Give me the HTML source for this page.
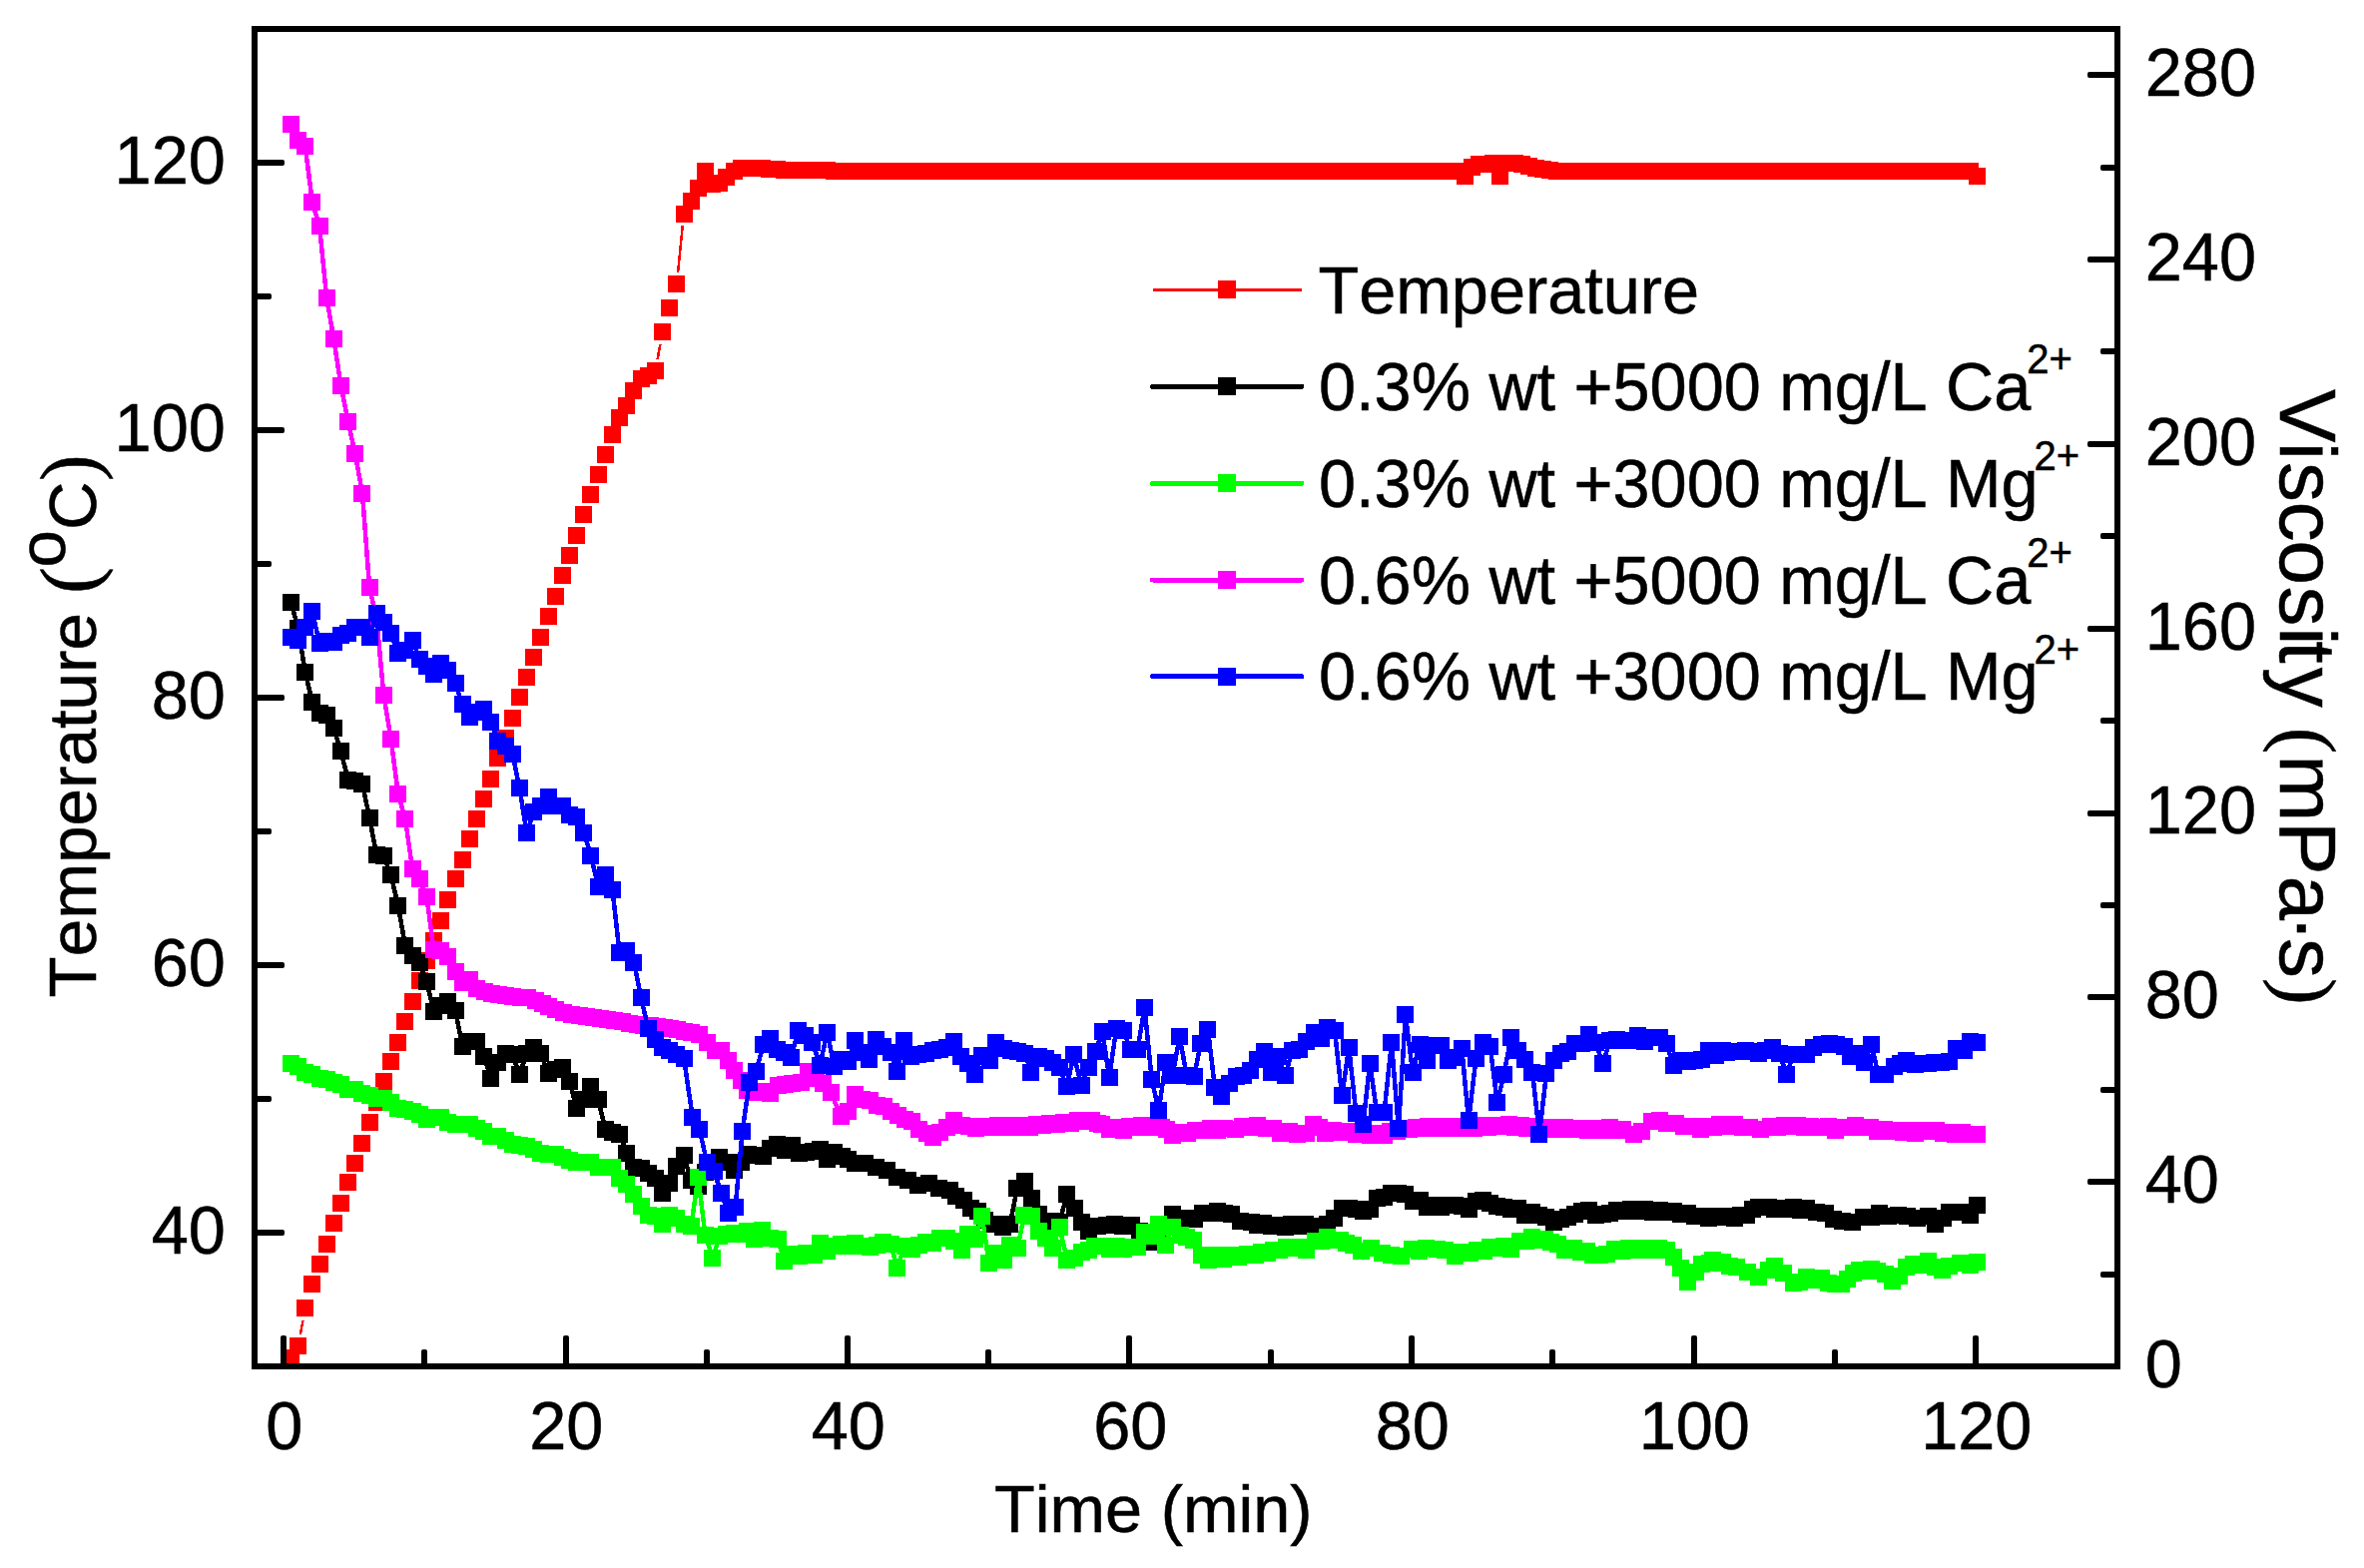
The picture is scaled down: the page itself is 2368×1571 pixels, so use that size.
<!DOCTYPE html>
<html><head><meta charset="utf-8"><title>Temperature and Viscosity vs Time</title>
<style>html,body{margin:0;padding:0;background:#fff}svg{display:block}text{font-family:"Liberation Sans",Arial,sans-serif;fill:#000;stroke:#000;stroke-width:0.5px;font-kerning:none;font-variant-ligatures:none}</style></head><body>
<svg width="2368" height="1571" viewBox="0 0 2368 1571" shape-rendering="crispEdges">
<rect width="2368" height="1571" fill="#fff"/>
<defs><clipPath id="c"><rect x="255" y="29" width="1866" height="1340"/></clipPath></defs>
<g clip-path="url(#c)">
<path d="M300.8 1337L303.5 1322.8M658.6 360L661.4 344.8M679.1 273L683.8 225.9" stroke="#f00" stroke-width="2.5" fill="none"/>
<path d="M283 1352h17v17h-17zM290 1340h17v17h-17zM297 1302h17v17h-17zM304 1278h17v17h-17zM312 1258h17v17h-17zM319 1238h17v17h-17zM326 1217h17v17h-17zM333 1197h17v17h-17zM340 1176h17v17h-17zM347 1157h17v17h-17zM354 1137h17v17h-17zM362 1116h17v17h-17zM369 1096h17v17h-17zM376 1075h17v17h-17zM383 1055h17v17h-17zM390 1036h17v17h-17zM397 1015h17v17h-17zM405 995h17v17h-17zM412 974h17v17h-17zM419 954h17v17h-17zM426 934h17v17h-17zM433 914h17v17h-17zM440 893h17v17h-17zM448 872h17v17h-17zM455 853h17v17h-17zM462 832h17v17h-17zM469 812h17v17h-17zM476 792h17v17h-17zM483 772h17v17h-17zM490 751h17v17h-17zM498 731h17v17h-17zM505 711h17v17h-17zM512 690h17v17h-17zM519 670h17v17h-17zM526 650h17v17h-17zM533 630h17v17h-17zM541 609h17v17h-17zM548 589h17v17h-17zM555 568h17v17h-17zM562 548h17v17h-17zM569 528h17v17h-17zM576 507h17v17h-17zM583 487h17v17h-17zM591 467h17v17h-17zM598 447h17v17h-17zM605 427h17v17h-17zM612 410h17v17h-17zM619 398h17v17h-17zM626 383h17v17h-17zM634 371h17v17h-17zM641 368h17v17h-17zM648 363h17v17h-17zM655 324h17v17h-17zM662 300h17v17h-17zM669 276h17v17h-17zM677 206h17v17h-17zM684 193h17v17h-17zM691 180h17v17h-17zM698 163h17v17h-17zM705 176h17v17h-17zM712 175h17v17h-17zM719 169h17v17h-17zM727 163h17v17h-17zM734 160h17v17h-17zM741 160h17v17h-17zM748 160h17v17h-17zM755 160h17v17h-17zM762 161h17v17h-17zM770 161h17v17h-17zM777 162h17v17h-17zM784 162h17v17h-17zM791 162h17v17h-17zM798 162h17v17h-17zM805 162h17v17h-17zM813 162h17v17h-17zM820 162h17v17h-17zM827 163h17v17h-17zM833 163h17v17h-17zM839 163h17v17h-17zM846 163h17v17h-17zM853 163h17v17h-17zM860 163h17v17h-17zM867 163h17v17h-17zM874 163h17v17h-17zM882 163h17v17h-17zM889 163h17v17h-17zM896 163h17v17h-17zM903 163h17v17h-17zM910 163h17v17h-17zM917 163h17v17h-17zM924 163h17v17h-17zM931 163h17v17h-17zM939 163h17v17h-17zM946 163h17v17h-17zM953 163h17v17h-17zM960 163h17v17h-17zM967 163h17v17h-17zM974 163h17v17h-17zM981 163h17v17h-17zM988 163h17v17h-17zM996 163h17v17h-17zM1003 163h17v17h-17zM1010 163h17v17h-17zM1017 163h17v17h-17zM1024 163h17v17h-17zM1031 163h17v17h-17zM1038 163h17v17h-17zM1045 163h17v17h-17zM1053 163h17v17h-17zM1060 163h17v17h-17zM1067 163h17v17h-17zM1074 163h17v17h-17zM1081 163h17v17h-17zM1088 163h17v17h-17zM1095 163h17v17h-17zM1102 163h17v17h-17zM1110 163h17v17h-17zM1117 163h17v17h-17zM1124 163h17v17h-17zM1131 163h17v17h-17zM1138 163h17v17h-17zM1145 163h17v17h-17zM1152 163h17v17h-17zM1159 163h17v17h-17zM1167 163h17v17h-17zM1174 163h17v17h-17zM1181 163h17v17h-17zM1188 163h17v17h-17zM1195 163h17v17h-17zM1202 163h17v17h-17zM1209 163h17v17h-17zM1216 163h17v17h-17zM1224 163h17v17h-17zM1231 163h17v17h-17zM1238 163h17v17h-17zM1245 163h17v17h-17zM1252 163h17v17h-17zM1259 163h17v17h-17zM1266 163h17v17h-17zM1273 163h17v17h-17zM1281 163h17v17h-17zM1288 163h17v17h-17zM1295 163h17v17h-17zM1302 163h17v17h-17zM1309 163h17v17h-17zM1316 163h17v17h-17zM1323 163h17v17h-17zM1331 163h17v17h-17zM1338 163h17v17h-17zM1345 163h17v17h-17zM1352 163h17v17h-17zM1359 163h17v17h-17zM1366 163h17v17h-17zM1373 163h17v17h-17zM1380 163h17v17h-17zM1388 163h17v17h-17zM1395 163h17v17h-17zM1402 163h17v17h-17zM1409 163h17v17h-17zM1416 163h17v17h-17zM1423 163h17v17h-17zM1430 163h17v17h-17zM1437 163h17v17h-17zM1445 163h17v17h-17zM1452 163h17v17h-17zM1459 168h17v17h-17zM1466 159h17v17h-17zM1473 156h17v17h-17zM1480 156h17v17h-17zM1487 155h17v17h-17zM1494 168h17v17h-17zM1502 155h17v17h-17zM1509 155h17v17h-17zM1516 156h17v17h-17zM1523 158h17v17h-17zM1530 160h17v17h-17zM1537 161h17v17h-17zM1544 162h17v17h-17zM1551 163h17v17h-17zM1559 163h17v17h-17zM1566 163h17v17h-17zM1573 163h17v17h-17zM1580 163h17v17h-17zM1587 163h17v17h-17zM1594 163h17v17h-17zM1601 163h17v17h-17zM1608 163h17v17h-17zM1616 163h17v17h-17zM1623 163h17v17h-17zM1630 163h17v17h-17zM1637 163h17v17h-17zM1644 163h17v17h-17zM1651 163h17v17h-17zM1658 163h17v17h-17zM1665 163h17v17h-17zM1673 163h17v17h-17zM1680 163h17v17h-17zM1687 163h17v17h-17zM1694 163h17v17h-17zM1701 163h17v17h-17zM1708 163h17v17h-17zM1715 163h17v17h-17zM1722 163h17v17h-17zM1730 163h17v17h-17zM1737 163h17v17h-17zM1744 163h17v17h-17zM1751 163h17v17h-17zM1758 163h17v17h-17zM1765 163h17v17h-17zM1772 163h17v17h-17zM1779 163h17v17h-17zM1787 163h17v17h-17zM1794 163h17v17h-17zM1801 163h17v17h-17zM1808 163h17v17h-17zM1815 163h17v17h-17zM1822 163h17v17h-17zM1829 163h17v17h-17zM1836 163h17v17h-17zM1844 163h17v17h-17zM1851 163h17v17h-17zM1858 163h17v17h-17zM1865 163h17v17h-17zM1872 163h17v17h-17zM1879 163h17v17h-17zM1886 163h17v17h-17zM1894 163h17v17h-17zM1901 163h17v17h-17zM1908 163h17v17h-17zM1915 163h17v17h-17zM1922 163h17v17h-17zM1929 163h17v17h-17zM1936 163h17v17h-17zM1943 163h17v17h-17zM1951 163h17v17h-17zM1958 163h17v17h-17zM1965 163h17v17h-17zM1972 168h17v17h-17z" fill="#f00"/>
<path d="M291.4 603.5L298.6 629.3L305.7 673.4L312.9 703.9L320 714.8L327.2 716.7L334.3 729.4L341.5 753L348.7 781.3L355.8 782.5L363 785.4L370.1 819.4L377.3 856.9L384.4 857.9L391.6 876.9L398.8 907.5L405.9 947.4L413.1 957.3L420.2 964.5L427.4 983.9L434.5 1013.3L441.7 1007.5L448.9 1003.7L456 1012.5L463.2 1048.2L470.3 1043.4L477.5 1043.4L484.6 1058.6L491.8 1080L499 1064.5L506.1 1055.7L513.3 1056L520.4 1076.8L527.6 1055.5L534.7 1049.4L541.9 1055.7L549.1 1075.7L556.2 1071.7L563.4 1069.5L570.5 1083.6L577.7 1110L584.8 1101.3L592 1088.6L599.2 1101.8L606.3 1131.2L613.5 1134.5L620.6 1136.2L627.8 1155.1L634.9 1169.7L642.1 1170L649.2 1175.2L656.4 1180L663.6 1195.2L670.7 1185.3L677.9 1168L685 1157.8L692.2 1182.8L699.3 1188L706.5 1175L713.7 1165L720.8 1159.5L728 1165L735.1 1173L742.3 1165L749.4 1156.7L757.8 1157.7L764.7 1158.8L771.7 1150.6L778.9 1146.5L786.1 1152.7L793.1 1147.1L800.3 1155.5L807.5 1154.5L814.5 1153.4L821.6 1151.4L828.8 1161.8L835.8 1154.5L843 1158.2L850 1161.3L856.3 1165.6L866.9 1165.5L877.5 1169.9L888.1 1172.5L898.6 1179.8L909.2 1182L919.8 1187.2L930.4 1185.6L940.9 1190.4L951.5 1192.2L957.9 1198.9L965.3 1202.1L972.7 1210.5L979 1213.8L986.4 1222.1L997 1226.5L1004.4 1229.5L1011.8 1226.9L1018.8 1190.4L1026.2 1183.5L1033.4 1201L1040.5 1216.9L1047.7 1226.3L1054.7 1223.3L1061.5 1224.2L1068.9 1196L1076.3 1210.5L1083.1 1224.3L1090.5 1233.1L1099.6 1228.2L1108 1227.4L1116.5 1226.9L1124.9 1228L1133.4 1227.5L1141.9 1233.7L1147.7 1237L1153.5 1244.3L1159.3 1234.4L1165.1 1228.5L1174.6 1216.5L1182 1220L1189.5 1220.1L1196.9 1221.1L1204.3 1215.9L1211.7 1215.8L1219.1 1213.3L1226.5 1215.8L1233.9 1216.9L1242.7 1223.8L1253.3 1224.8L1259.6 1227.1L1266 1225.4L1273.4 1228.5L1280.8 1227.5L1287.1 1229.2L1293.5 1226.8L1299.8 1228.5L1307.2 1226.7L1314.6 1228.9L1323.1 1228.2L1329.8 1226.3L1336.8 1220.1L1344.2 1210.5L1351.2 1210.6L1358.4 1212L1365.4 1213.3L1372.1 1211.5L1379.1 1200.7L1386.5 1199.9L1393.9 1195.4L1400.9 1195.7L1407.9 1196.9L1415.1 1203.1L1422 1202.8L1429.2 1209L1436.2 1207L1443.6 1209.4L1450.4 1207L1457.4 1207.7L1464.3 1208.5L1471.1 1211.5L1478.5 1203.6L1485.5 1202L1492.7 1205.3L1499.7 1208.4L1506.6 1209.5L1513.8 1211.1L1520.8 1210.6L1527.8 1217.9L1535 1214.8L1542 1217.9L1549 1219.1L1556.1 1224.2L1563.1 1221.8L1570.1 1219.6L1577.3 1216.9L1584.3 1213.2L1591.5 1212.7L1598.4 1217.5L1605.4 1216.3L1612.6 1215.3L1619.6 1212.7L1626.8 1213.7L1633.8 1211.7L1640.9 1213.7L1647.9 1211.7L1655.1 1214.5L1662.2 1212.5L1669.3 1214.5L1676.3 1213.8L1683.5 1216.2L1690.4 1215.9L1697.4 1218.3L1704.6 1218L1711.6 1220.4L1718.8 1218L1726 1219.6L1731.9 1218L1737.9 1220.5L1743.7 1217.1L1749.4 1217.7L1755.2 1211.7L1761 1209.7L1771.5 1209.4L1777.9 1211.7L1784.2 1210L1790.5 1211.9L1796.8 1209.8L1803.1 1212.1L1809.4 1210.5L1819.9 1214.6L1828.4 1215.1L1836.8 1221.5L1845.2 1223.5L1855.7 1224.7L1866.2 1219.9L1874.6 1219.8L1882 1215.1L1891.5 1218.8L1902 1217.8L1910.4 1218.8L1920.9 1221L1931.5 1218.3L1938.8 1226.2L1946.2 1220.9L1952.5 1214.2L1959.9 1215L1967.2 1214.7L1973.5 1217.7L1980.5 1207.7" stroke="#000" stroke-width="4.5" fill="none" stroke-linejoin="round"/>
<path d="M283 595h17v17h-17zM290 621h17v17h-17zM297 665h17v17h-17zM304 695h17v17h-17zM312 706h17v17h-17zM319 708h17v17h-17zM326 721h17v17h-17zM333 744h17v17h-17zM340 773h17v17h-17zM347 774h17v17h-17zM354 777h17v17h-17zM362 811h17v17h-17zM369 848h17v17h-17zM376 849h17v17h-17zM383 868h17v17h-17zM390 899h17v17h-17zM397 939h17v17h-17zM405 949h17v17h-17zM412 956h17v17h-17zM419 975h17v17h-17zM426 1005h17v17h-17zM433 999h17v17h-17zM440 995h17v17h-17zM448 1004h17v17h-17zM455 1040h17v17h-17zM462 1035h17v17h-17zM469 1035h17v17h-17zM476 1050h17v17h-17zM483 1072h17v17h-17zM490 1056h17v17h-17zM498 1047h17v17h-17zM505 1048h17v17h-17zM512 1068h17v17h-17zM519 1047h17v17h-17zM526 1041h17v17h-17zM533 1047h17v17h-17zM541 1067h17v17h-17zM548 1063h17v17h-17zM555 1061h17v17h-17zM562 1075h17v17h-17zM569 1102h17v17h-17zM576 1093h17v17h-17zM583 1080h17v17h-17zM591 1093h17v17h-17zM598 1123h17v17h-17zM605 1126h17v17h-17zM612 1128h17v17h-17zM619 1147h17v17h-17zM626 1161h17v17h-17zM634 1162h17v17h-17zM641 1167h17v17h-17zM648 1172h17v17h-17zM655 1187h17v17h-17zM662 1177h17v17h-17zM669 1160h17v17h-17zM677 1149h17v17h-17zM684 1174h17v17h-17zM691 1180h17v17h-17zM698 1166h17v17h-17zM705 1156h17v17h-17zM712 1151h17v17h-17zM719 1156h17v17h-17zM727 1164h17v17h-17zM734 1156h17v17h-17zM741 1148h17v17h-17zM749 1149h17v17h-17zM756 1150h17v17h-17zM763 1142h17v17h-17zM770 1138h17v17h-17zM778 1144h17v17h-17zM785 1139h17v17h-17zM792 1147h17v17h-17zM799 1146h17v17h-17zM806 1145h17v17h-17zM813 1143h17v17h-17zM820 1153h17v17h-17zM827 1146h17v17h-17zM835 1150h17v17h-17zM841 1153h17v17h-17zM848 1157h17v17h-17zM858 1157h17v17h-17zM869 1161h17v17h-17zM880 1164h17v17h-17zM890 1171h17v17h-17zM901 1174h17v17h-17zM911 1179h17v17h-17zM922 1177h17v17h-17zM932 1182h17v17h-17zM943 1184h17v17h-17zM949 1190h17v17h-17zM957 1194h17v17h-17zM964 1202h17v17h-17zM971 1205h17v17h-17zM978 1214h17v17h-17zM988 1218h17v17h-17zM996 1221h17v17h-17zM1003 1218h17v17h-17zM1010 1182h17v17h-17zM1018 1175h17v17h-17zM1025 1192h17v17h-17zM1032 1208h17v17h-17zM1039 1218h17v17h-17zM1046 1215h17v17h-17zM1053 1216h17v17h-17zM1060 1188h17v17h-17zM1068 1202h17v17h-17zM1075 1216h17v17h-17zM1082 1225h17v17h-17zM1091 1220h17v17h-17zM1100 1219h17v17h-17zM1108 1218h17v17h-17zM1116 1220h17v17h-17zM1125 1219h17v17h-17zM1133 1225h17v17h-17zM1139 1229h17v17h-17zM1145 1236h17v17h-17zM1151 1226h17v17h-17zM1157 1220h17v17h-17zM1166 1208h17v17h-17zM1174 1212h17v17h-17zM1181 1212h17v17h-17zM1188 1213h17v17h-17zM1196 1207h17v17h-17zM1203 1207h17v17h-17zM1211 1205h17v17h-17zM1218 1207h17v17h-17zM1225 1208h17v17h-17zM1234 1215h17v17h-17zM1245 1216h17v17h-17zM1251 1219h17v17h-17zM1257 1217h17v17h-17zM1265 1220h17v17h-17zM1272 1219h17v17h-17zM1279 1221h17v17h-17zM1285 1218h17v17h-17zM1291 1220h17v17h-17zM1299 1218h17v17h-17zM1306 1220h17v17h-17zM1315 1220h17v17h-17zM1321 1218h17v17h-17zM1328 1212h17v17h-17zM1336 1202h17v17h-17zM1343 1202h17v17h-17zM1350 1203h17v17h-17zM1357 1205h17v17h-17zM1364 1203h17v17h-17zM1371 1192h17v17h-17zM1378 1191h17v17h-17zM1385 1187h17v17h-17zM1392 1187h17v17h-17zM1399 1188h17v17h-17zM1407 1195h17v17h-17zM1414 1194h17v17h-17zM1421 1201h17v17h-17zM1428 1199h17v17h-17zM1435 1201h17v17h-17zM1442 1199h17v17h-17zM1449 1199h17v17h-17zM1456 1200h17v17h-17zM1463 1203h17v17h-17zM1470 1195h17v17h-17zM1477 1194h17v17h-17zM1484 1197h17v17h-17zM1491 1200h17v17h-17zM1498 1201h17v17h-17zM1505 1203h17v17h-17zM1512 1202h17v17h-17zM1519 1209h17v17h-17zM1526 1206h17v17h-17zM1533 1209h17v17h-17zM1540 1211h17v17h-17zM1548 1216h17v17h-17zM1555 1213h17v17h-17zM1562 1211h17v17h-17zM1569 1208h17v17h-17zM1576 1205h17v17h-17zM1583 1204h17v17h-17zM1590 1209h17v17h-17zM1597 1208h17v17h-17zM1604 1207h17v17h-17zM1611 1204h17v17h-17zM1618 1205h17v17h-17zM1625 1203h17v17h-17zM1632 1205h17v17h-17zM1639 1203h17v17h-17zM1647 1206h17v17h-17zM1654 1204h17v17h-17zM1661 1206h17v17h-17zM1668 1205h17v17h-17zM1675 1208h17v17h-17zM1682 1207h17v17h-17zM1689 1210h17v17h-17zM1696 1210h17v17h-17zM1703 1212h17v17h-17zM1710 1210h17v17h-17zM1717 1211h17v17h-17zM1723 1210h17v17h-17zM1729 1212h17v17h-17zM1735 1209h17v17h-17zM1741 1209h17v17h-17zM1747 1203h17v17h-17zM1753 1201h17v17h-17zM1763 1201h17v17h-17zM1769 1203h17v17h-17zM1776 1202h17v17h-17zM1782 1203h17v17h-17zM1788 1201h17v17h-17zM1795 1204h17v17h-17zM1801 1202h17v17h-17zM1811 1206h17v17h-17zM1820 1207h17v17h-17zM1828 1213h17v17h-17zM1837 1215h17v17h-17zM1847 1216h17v17h-17zM1858 1211h17v17h-17zM1866 1211h17v17h-17zM1874 1207h17v17h-17zM1883 1210h17v17h-17zM1893 1209h17v17h-17zM1902 1210h17v17h-17zM1912 1212h17v17h-17zM1923 1210h17v17h-17zM1930 1218h17v17h-17zM1938 1212h17v17h-17zM1944 1206h17v17h-17zM1951 1206h17v17h-17zM1959 1206h17v17h-17zM1965 1209h17v17h-17zM1972 1199h17v17h-17z" fill="#000"/>
<path d="M291.4 1065.4L298.6 1069L305.7 1074.3L312.9 1077L320 1080.2L327.2 1081.2L334.3 1084.8L341.5 1086.1L348.7 1091.8L355.8 1091.8L363 1095.4L370.1 1097.5L377.3 1100.9L384.4 1100.9L391.6 1104.5L398.8 1110.4L405.9 1111.9L413.1 1113.6L420.2 1116.6L427.4 1121.4L434.5 1119.3L441.7 1119.3L448.9 1124.2L456 1126.7L463.2 1126.7L470.3 1126.7L477.5 1130.9L484.6 1133.7L491.8 1138.8L499 1138.8L506.1 1142.6L513.3 1146.8L520.4 1147.9L527.6 1148.5L534.7 1151.5L541.9 1155.3L549.1 1156.3L556.2 1157L563.4 1159.9L570.5 1162.7L577.7 1164.2L584.8 1164.8L592 1164.8L599.2 1169.7L606.3 1169.7L613.5 1169.7L620.6 1180.7L627.8 1187L634.9 1196.5L642.1 1208.6L649.2 1217.7L656.4 1218.7L663.6 1226.1L670.7 1217.7L677.9 1220L685 1227L692.2 1229L699.3 1179.6L706.5 1237.8L713.7 1260.2L720.8 1238.8L728 1236L735.1 1235.6L742.3 1236L748.5 1233.8L755.9 1241.2L763.3 1232.8L771.7 1240.1L779.1 1241.3L785.5 1263.4L792.9 1256.1L800.3 1258.5L807.7 1255L815.1 1257.4L821.4 1245.5L828.8 1253.8L836.2 1248.7L842.6 1246.4L850 1248.7L856.3 1245.4L863.7 1248L871.1 1249.6L878.5 1247.6L884.9 1244.3L892.3 1246.6L898.6 1270.3L906 1248.7L913.4 1251.7L920.8 1247.2L927.2 1244.3L934.6 1245.9L942 1240.5L948.3 1240.2L955.7 1243.3L963.1 1252.3L969.5 1236.9L976.9 1241.3L983.7 1218.3L990.6 1265.2L998 1256L1005.4 1262.4L1011.8 1247.5L1019.2 1250.8L1026 1217.5L1033.1 1218L1040.3 1233.1L1047.1 1240.2L1054.1 1250L1061.5 1229.6L1068.9 1262.3L1076.3 1260.3L1083.1 1254.9L1090.5 1252.9L1096.8 1248.6L1103.8 1248L1111.2 1251.3L1118.6 1248L1126 1251.3L1133.4 1249.7L1139.7 1249.2L1146.5 1234.5L1153.5 1238.6L1160.5 1226.5L1167.2 1247.1L1174.6 1229.6L1182 1238L1188.8 1239.2L1195.8 1242.2L1203.2 1257.1L1210.6 1262.7L1218 1257.8L1225.4 1261.2L1232.8 1257.3L1240.6 1259.1L1249 1256.4L1257.5 1257.6L1263.5 1254.5L1269.5 1255.4L1275.5 1252.3L1281.8 1252.9L1288.2 1249.4L1294.5 1250L1301.4 1249.2L1308.3 1252.4L1317.8 1243.4L1323.6 1243.6L1329.4 1239.8L1335.8 1242.9L1342.1 1242L1348.4 1245.2L1355.8 1247.4L1363.2 1253.6L1373.8 1250.6L1384.4 1256L1393.9 1257.3L1403.4 1258.9L1414 1251.8L1421.4 1253.3L1428.8 1250.8L1439.4 1251.1L1447.9 1252.9L1457.4 1258.1L1464.8 1254.9L1472.2 1255.8L1479.6 1252.7L1486.3 1253.1L1493 1249.6L1499.7 1250L1506.5 1249L1513.4 1251.9L1522.9 1243.4L1528.8 1243.6L1534.6 1239.8L1540.9 1242.8L1547.3 1241.9L1553.6 1245L1560.5 1246.9L1567.4 1252.8L1576.9 1250.6L1583.2 1254.3L1589.6 1254L1595.9 1257.6L1602.3 1257.3L1609.7 1256.6L1617.1 1251.8L1624.5 1253.1L1631.9 1250.4L1638.9 1252.4L1646 1250.5L1653 1252.6L1661.5 1250.6L1669.9 1252.6L1676.8 1259.5L1683.7 1270.3L1690.7 1284.2L1698.1 1274.6L1704.8 1266.6L1712.2 1265.9L1715.8 1262L1718.8 1265.5L1725.2 1264.1L1732.6 1269L1740 1269.8L1750.5 1274.5L1761 1279.3L1771.5 1272.4L1777.9 1268.3L1786.3 1275.6L1796.4 1285.2L1802.9 1284.5L1809.4 1279.9L1816.8 1282.1L1824.1 1280.3L1831.5 1285.3L1838.9 1286.2L1844.7 1286.1L1850.4 1282L1856.8 1275.6L1862.5 1272.7L1868.3 1273.9L1874.6 1271.7L1881 1273.5L1888.3 1276.5L1895.7 1283.6L1902.4 1278.2L1909.4 1269.3L1916.7 1266.2L1926.2 1267.2L1931.5 1263.7L1938.3 1269.9L1945.1 1272.1L1952.5 1268.2L1963 1265.8L1973.5 1267.2L1980.5 1264.7" stroke="#0f0" stroke-width="4.5" fill="none" stroke-linejoin="round"/>
<path d="M283 1057h17v17h-17zM290 1060h17v17h-17zM297 1066h17v17h-17zM304 1068h17v17h-17zM312 1072h17v17h-17zM319 1073h17v17h-17zM326 1076h17v17h-17zM333 1078h17v17h-17zM340 1083h17v17h-17zM347 1083h17v17h-17zM354 1087h17v17h-17zM362 1089h17v17h-17zM369 1092h17v17h-17zM376 1092h17v17h-17zM383 1096h17v17h-17zM390 1102h17v17h-17zM397 1103h17v17h-17zM405 1105h17v17h-17zM412 1108h17v17h-17zM419 1113h17v17h-17zM426 1111h17v17h-17zM433 1111h17v17h-17zM440 1116h17v17h-17zM448 1118h17v17h-17zM455 1118h17v17h-17zM462 1118h17v17h-17zM469 1122h17v17h-17zM476 1125h17v17h-17zM483 1130h17v17h-17zM490 1130h17v17h-17zM498 1134h17v17h-17zM505 1138h17v17h-17zM512 1139h17v17h-17zM519 1140h17v17h-17zM526 1143h17v17h-17zM533 1147h17v17h-17zM541 1148h17v17h-17zM548 1148h17v17h-17zM555 1151h17v17h-17zM562 1154h17v17h-17zM569 1156h17v17h-17zM576 1156h17v17h-17zM583 1156h17v17h-17zM591 1161h17v17h-17zM598 1161h17v17h-17zM605 1161h17v17h-17zM612 1172h17v17h-17zM619 1178h17v17h-17zM626 1188h17v17h-17zM634 1200h17v17h-17zM641 1209h17v17h-17zM648 1210h17v17h-17zM655 1218h17v17h-17zM662 1209h17v17h-17zM669 1212h17v17h-17zM677 1218h17v17h-17zM684 1220h17v17h-17zM691 1171h17v17h-17zM698 1229h17v17h-17zM705 1252h17v17h-17zM712 1230h17v17h-17zM719 1228h17v17h-17zM727 1227h17v17h-17zM734 1228h17v17h-17zM740 1225h17v17h-17zM747 1233h17v17h-17zM755 1224h17v17h-17zM763 1232h17v17h-17zM771 1233h17v17h-17zM777 1255h17v17h-17zM784 1248h17v17h-17zM792 1250h17v17h-17zM799 1247h17v17h-17zM807 1249h17v17h-17zM813 1237h17v17h-17zM820 1245h17v17h-17zM828 1240h17v17h-17zM834 1238h17v17h-17zM841 1240h17v17h-17zM848 1237h17v17h-17zM855 1240h17v17h-17zM863 1241h17v17h-17zM870 1239h17v17h-17zM876 1236h17v17h-17zM884 1238h17v17h-17zM890 1262h17v17h-17zM898 1240h17v17h-17zM905 1243h17v17h-17zM912 1239h17v17h-17zM919 1236h17v17h-17zM926 1237h17v17h-17zM933 1232h17v17h-17zM940 1232h17v17h-17zM947 1235h17v17h-17zM955 1244h17v17h-17zM961 1228h17v17h-17zM968 1233h17v17h-17zM975 1210h17v17h-17zM982 1257h17v17h-17zM990 1247h17v17h-17zM997 1254h17v17h-17zM1003 1239h17v17h-17zM1011 1242h17v17h-17zM1017 1209h17v17h-17zM1025 1210h17v17h-17zM1032 1225h17v17h-17zM1039 1232h17v17h-17zM1046 1242h17v17h-17zM1053 1221h17v17h-17zM1060 1254h17v17h-17zM1068 1252h17v17h-17zM1075 1246h17v17h-17zM1082 1244h17v17h-17zM1088 1240h17v17h-17zM1095 1240h17v17h-17zM1103 1243h17v17h-17zM1110 1240h17v17h-17zM1117 1243h17v17h-17zM1125 1241h17v17h-17zM1131 1241h17v17h-17zM1138 1226h17v17h-17zM1145 1230h17v17h-17zM1152 1218h17v17h-17zM1159 1239h17v17h-17zM1166 1221h17v17h-17zM1174 1229h17v17h-17zM1180 1231h17v17h-17zM1187 1234h17v17h-17zM1195 1249h17v17h-17zM1202 1254h17v17h-17zM1210 1249h17v17h-17zM1217 1253h17v17h-17zM1224 1249h17v17h-17zM1232 1251h17v17h-17zM1241 1248h17v17h-17zM1249 1249h17v17h-17zM1255 1246h17v17h-17zM1261 1247h17v17h-17zM1267 1244h17v17h-17zM1273 1244h17v17h-17zM1280 1241h17v17h-17zM1286 1242h17v17h-17zM1293 1241h17v17h-17zM1300 1244h17v17h-17zM1309 1235h17v17h-17zM1315 1235h17v17h-17zM1321 1231h17v17h-17zM1327 1234h17v17h-17zM1334 1234h17v17h-17zM1340 1237h17v17h-17zM1347 1239h17v17h-17zM1355 1245h17v17h-17zM1365 1242h17v17h-17zM1376 1247h17v17h-17zM1385 1249h17v17h-17zM1395 1250h17v17h-17zM1406 1243h17v17h-17zM1413 1245h17v17h-17zM1420 1242h17v17h-17zM1431 1243h17v17h-17zM1439 1244h17v17h-17zM1449 1250h17v17h-17zM1456 1246h17v17h-17zM1464 1247h17v17h-17zM1471 1244h17v17h-17zM1478 1245h17v17h-17zM1484 1241h17v17h-17zM1491 1242h17v17h-17zM1498 1240h17v17h-17zM1505 1243h17v17h-17zM1514 1235h17v17h-17zM1520 1235h17v17h-17zM1526 1231h17v17h-17zM1532 1234h17v17h-17zM1539 1233h17v17h-17zM1545 1236h17v17h-17zM1552 1238h17v17h-17zM1559 1244h17v17h-17zM1568 1242h17v17h-17zM1575 1246h17v17h-17zM1581 1245h17v17h-17zM1587 1249h17v17h-17zM1594 1249h17v17h-17zM1601 1248h17v17h-17zM1609 1243h17v17h-17zM1616 1245h17v17h-17zM1623 1242h17v17h-17zM1630 1244h17v17h-17zM1637 1242h17v17h-17zM1645 1244h17v17h-17zM1653 1242h17v17h-17zM1661 1244h17v17h-17zM1668 1251h17v17h-17zM1675 1262h17v17h-17zM1682 1276h17v17h-17zM1690 1266h17v17h-17zM1696 1258h17v17h-17zM1704 1257h17v17h-17zM1707 1254h17v17h-17zM1710 1257h17v17h-17zM1717 1256h17v17h-17zM1724 1260h17v17h-17zM1731 1261h17v17h-17zM1742 1266h17v17h-17zM1753 1271h17v17h-17zM1763 1264h17v17h-17zM1769 1260h17v17h-17zM1778 1267h17v17h-17zM1788 1277h17v17h-17zM1794 1276h17v17h-17zM1801 1271h17v17h-17zM1808 1274h17v17h-17zM1816 1272h17v17h-17zM1823 1277h17v17h-17zM1830 1278h17v17h-17zM1836 1278h17v17h-17zM1842 1273h17v17h-17zM1848 1267h17v17h-17zM1854 1264h17v17h-17zM1860 1265h17v17h-17zM1866 1263h17v17h-17zM1872 1265h17v17h-17zM1880 1268h17v17h-17zM1887 1275h17v17h-17zM1894 1270h17v17h-17zM1901 1261h17v17h-17zM1908 1258h17v17h-17zM1918 1259h17v17h-17zM1923 1255h17v17h-17zM1930 1261h17v17h-17zM1937 1264h17v17h-17zM1944 1260h17v17h-17zM1955 1257h17v17h-17zM1965 1259h17v17h-17zM1972 1256h17v17h-17z" fill="#0f0"/>
<path d="M291.4 125L298.6 140.4L305.7 146.5L312.9 203L320 226.5L327.2 298.3L334.3 339.5L341.5 386.5L348.7 423L355.8 454.9L363 494.6L370.1 588.5L377.3 620L384.4 697L391.6 740.1L398.8 795.4L405.9 820.3L413.1 870.6L420.2 880.6L427.4 898.3L434.5 951.4L441.7 952.5L448.9 958.4L456 973.4L463.2 984.2L470.3 981.7L477.5 991L485.1 993.4L492.7 995.8L499.7 996.9L506.8 997.9L513.8 999L521.2 999.2L528.6 999.4L536 1002.3L543.4 1005.3L549.8 1008.3L556.1 1011.3L564.5 1014.1L573 1017L580 1017.9L587.1 1018.8L594.1 1019.6L601.2 1020.5L608.2 1021.4L615.3 1022.3L623.1 1023.9L630.8 1025.4L638.6 1027L645 1027.3L651.3 1027.6L658.2 1028.6L665 1029.7L671.9 1030.8L678.8 1031.8L685.9 1033.4L692.9 1035L700 1036.6L708.4 1044.5L716 1053L722.1 1052L729.5 1062L735.9 1073L742.2 1082.5L748.5 1092.1L756.9 1094.2L764.3 1093.8L771.7 1095.2L779.1 1087.9L786.5 1086.8L793.9 1085.8L802.4 1084.6L809.8 1073.1L817.2 1080.8L824.6 1085.8L832 1094.4L842.6 1118.2L849.8 1113.2L856.8 1096.8L863.9 1102L871.1 1102.7L878.3 1107.9L885.5 1108.7L892.7 1113.2L899.7 1117.5L906.9 1121.7L913.4 1123.7L920.6 1131.4L928.2 1135.1L934.6 1139.2L941.6 1134.5L948.8 1129.5L955.7 1122.8L963.1 1127.4L970.5 1128.1L977.9 1130.1L985.3 1128.1L992.4 1130L999.4 1127.8L1006.5 1129.7L1012.8 1127.7L1019.2 1129.7L1025.5 1127.7L1031.9 1129.1L1038.2 1126.6L1044.6 1128L1051.6 1125.4L1058.7 1126.9L1065.7 1124.3L1072.8 1125.5L1079.8 1122.6L1086.9 1123.8L1093.2 1122.5L1099.6 1125.2L1103.8 1126.6L1111.2 1131.2L1118.6 1129.7L1126 1132.2L1131.8 1128.9L1137.6 1129.5L1144 1127.4L1150.3 1129.3L1156.7 1127.2L1163 1129.1L1168.8 1131.1L1174.6 1137.1L1182 1134.2L1189.5 1135.4L1197.4 1132.1L1205.3 1132.9L1212.4 1130.6L1219.4 1132.4L1226.5 1130.2L1237 1131.6L1244.1 1128.5L1251.2 1129.5L1259.6 1127.8L1268.1 1130.1L1275.5 1131L1282.9 1135.8L1291.3 1133.9L1299.8 1136L1308.3 1135.9L1315.7 1126.9L1321.5 1129.1L1327.3 1135.2L1335.8 1132.8L1344.2 1134.3L1351.3 1133.4L1358.3 1136.5L1365.4 1135.5L1372.4 1137.5L1379.5 1135.5L1386.5 1137.5L1392.9 1133.7L1399.2 1133.8L1405.5 1130L1411.9 1131.7L1418.2 1129.3L1424.6 1131L1430.9 1128.9L1437.3 1130.7L1443.6 1128.6L1450 1130.5L1456.3 1128.6L1462.7 1130.7L1469 1128.7L1476.1 1130.3L1483.1 1127.9L1490.2 1129.5L1497.2 1127.1L1504.3 1128.8L1511.3 1126.4L1517.3 1129.2L1523.3 1128L1529.3 1130.7L1536.9 1128.9L1544.6 1131.1L1552.3 1129.2L1559.9 1131.4L1567.4 1129.6L1574.8 1131.8L1582.5 1130L1590.3 1132.2L1598 1130.4L1605.4 1132L1612.8 1129.6L1619.2 1132.8L1625.5 1131.9L1636.1 1136L1644.6 1133.2L1654.7 1123.8L1662.3 1122.8L1669.9 1125.9L1678.4 1125.3L1686.9 1128.6L1695.3 1128L1703.8 1131.4L1710.1 1128.5L1716.5 1129.5L1722.8 1126.6L1730.3 1128.5L1737.9 1126.3L1745.2 1129.8L1752.6 1129.2L1763.1 1131.7L1773.6 1128.4L1780.7 1129.9L1787.7 1127.4L1794.7 1128.9L1801 1127.4L1807.3 1129.9L1813.6 1128.4L1824.1 1129.6L1831.5 1128.8L1838.9 1132.1L1845.2 1129L1851.5 1130L1858.9 1127.7L1866.2 1129.3L1873.6 1129.4L1881 1133.6L1887.3 1131.6L1893.6 1133.6L1899.9 1132.1L1906.2 1134.6L1912.5 1132.9L1918.8 1135.2L1926.2 1132.6L1933.6 1134L1939.9 1132.9L1946.2 1135.8L1952.5 1134.7L1958.8 1136.6L1965.1 1134.4L1971.4 1136.3L1980.5 1136.2" stroke="#f0f" stroke-width="4.5" fill="none" stroke-linejoin="round"/>
<path d="M283 116h17v17h-17zM290 132h17v17h-17zM297 138h17v17h-17zM304 194h17v17h-17zM312 218h17v17h-17zM319 290h17v17h-17zM326 331h17v17h-17zM333 378h17v17h-17zM340 414h17v17h-17zM347 446h17v17h-17zM354 486h17v17h-17zM362 580h17v17h-17zM369 612h17v17h-17zM376 688h17v17h-17zM383 732h17v17h-17zM390 787h17v17h-17zM397 812h17v17h-17zM405 862h17v17h-17zM412 872h17v17h-17zM419 890h17v17h-17zM426 943h17v17h-17zM433 944h17v17h-17zM440 950h17v17h-17zM448 965h17v17h-17zM455 976h17v17h-17zM462 973h17v17h-17zM469 982h17v17h-17zM477 985h17v17h-17zM484 987h17v17h-17zM491 988h17v17h-17zM498 989h17v17h-17zM505 990h17v17h-17zM513 991h17v17h-17zM520 991h17v17h-17zM528 994h17v17h-17zM535 997h17v17h-17zM541 1000h17v17h-17zM548 1003h17v17h-17zM556 1006h17v17h-17zM564 1008h17v17h-17zM572 1009h17v17h-17zM579 1010h17v17h-17zM586 1011h17v17h-17zM593 1012h17v17h-17zM600 1013h17v17h-17zM607 1014h17v17h-17zM615 1015h17v17h-17zM622 1017h17v17h-17zM630 1018h17v17h-17zM636 1019h17v17h-17zM643 1019h17v17h-17zM650 1020h17v17h-17zM657 1021h17v17h-17zM663 1022h17v17h-17zM670 1023h17v17h-17zM677 1025h17v17h-17zM684 1026h17v17h-17zM692 1028h17v17h-17zM700 1036h17v17h-17zM708 1044h17v17h-17zM714 1044h17v17h-17zM721 1054h17v17h-17zM727 1064h17v17h-17zM734 1074h17v17h-17zM740 1084h17v17h-17zM748 1086h17v17h-17zM756 1085h17v17h-17zM763 1087h17v17h-17zM771 1079h17v17h-17zM778 1078h17v17h-17zM785 1077h17v17h-17zM794 1076h17v17h-17zM801 1065h17v17h-17zM809 1072h17v17h-17zM816 1077h17v17h-17zM824 1086h17v17h-17zM834 1110h17v17h-17zM841 1105h17v17h-17zM848 1088h17v17h-17zM855 1093h17v17h-17zM863 1094h17v17h-17zM870 1099h17v17h-17zM877 1100h17v17h-17zM884 1105h17v17h-17zM891 1109h17v17h-17zM898 1113h17v17h-17zM905 1115h17v17h-17zM912 1123h17v17h-17zM920 1127h17v17h-17zM926 1131h17v17h-17zM933 1126h17v17h-17zM940 1121h17v17h-17zM947 1114h17v17h-17zM955 1119h17v17h-17zM962 1120h17v17h-17zM969 1122h17v17h-17zM977 1120h17v17h-17zM984 1121h17v17h-17zM991 1119h17v17h-17zM998 1121h17v17h-17zM1004 1119h17v17h-17zM1011 1121h17v17h-17zM1017 1119h17v17h-17zM1023 1121h17v17h-17zM1030 1118h17v17h-17zM1036 1119h17v17h-17zM1043 1117h17v17h-17zM1050 1118h17v17h-17zM1057 1116h17v17h-17zM1064 1117h17v17h-17zM1071 1114h17v17h-17zM1078 1115h17v17h-17zM1085 1114h17v17h-17zM1091 1117h17v17h-17zM1095 1118h17v17h-17zM1103 1123h17v17h-17zM1110 1121h17v17h-17zM1117 1124h17v17h-17zM1123 1120h17v17h-17zM1129 1121h17v17h-17zM1135 1119h17v17h-17zM1142 1121h17v17h-17zM1148 1119h17v17h-17zM1155 1121h17v17h-17zM1160 1123h17v17h-17zM1166 1129h17v17h-17zM1174 1126h17v17h-17zM1181 1127h17v17h-17zM1189 1124h17v17h-17zM1197 1124h17v17h-17zM1204 1122h17v17h-17zM1211 1124h17v17h-17zM1218 1122h17v17h-17zM1229 1123h17v17h-17zM1236 1120h17v17h-17zM1243 1121h17v17h-17zM1251 1119h17v17h-17zM1260 1122h17v17h-17zM1267 1122h17v17h-17zM1274 1127h17v17h-17zM1283 1125h17v17h-17zM1291 1128h17v17h-17zM1300 1127h17v17h-17zM1307 1118h17v17h-17zM1313 1121h17v17h-17zM1319 1127h17v17h-17zM1327 1124h17v17h-17zM1336 1126h17v17h-17zM1343 1125h17v17h-17zM1350 1128h17v17h-17zM1357 1127h17v17h-17zM1364 1129h17v17h-17zM1371 1127h17v17h-17zM1378 1129h17v17h-17zM1384 1125h17v17h-17zM1391 1125h17v17h-17zM1397 1122h17v17h-17zM1403 1123h17v17h-17zM1410 1121h17v17h-17zM1416 1122h17v17h-17zM1422 1120h17v17h-17zM1429 1122h17v17h-17zM1435 1120h17v17h-17zM1441 1122h17v17h-17zM1448 1120h17v17h-17zM1454 1122h17v17h-17zM1461 1120h17v17h-17zM1468 1122h17v17h-17zM1475 1119h17v17h-17zM1482 1121h17v17h-17zM1489 1119h17v17h-17zM1496 1120h17v17h-17zM1503 1118h17v17h-17zM1509 1121h17v17h-17zM1515 1119h17v17h-17zM1521 1122h17v17h-17zM1528 1120h17v17h-17zM1536 1123h17v17h-17zM1544 1121h17v17h-17zM1551 1123h17v17h-17zM1559 1121h17v17h-17zM1566 1123h17v17h-17zM1574 1122h17v17h-17zM1582 1124h17v17h-17zM1590 1122h17v17h-17zM1597 1124h17v17h-17zM1604 1121h17v17h-17zM1611 1124h17v17h-17zM1617 1123h17v17h-17zM1628 1128h17v17h-17zM1636 1125h17v17h-17zM1646 1115h17v17h-17zM1654 1114h17v17h-17zM1661 1117h17v17h-17zM1670 1117h17v17h-17zM1678 1120h17v17h-17zM1687 1120h17v17h-17zM1695 1123h17v17h-17zM1702 1120h17v17h-17zM1708 1121h17v17h-17zM1714 1118h17v17h-17zM1722 1120h17v17h-17zM1729 1118h17v17h-17zM1737 1121h17v17h-17zM1744 1121h17v17h-17zM1755 1123h17v17h-17zM1765 1120h17v17h-17zM1772 1121h17v17h-17zM1779 1119h17v17h-17zM1786 1120h17v17h-17zM1792 1119h17v17h-17zM1799 1121h17v17h-17zM1805 1120h17v17h-17zM1816 1121h17v17h-17zM1823 1120h17v17h-17zM1830 1124h17v17h-17zM1837 1121h17v17h-17zM1843 1121h17v17h-17zM1850 1119h17v17h-17zM1858 1121h17v17h-17zM1865 1121h17v17h-17zM1872 1125h17v17h-17zM1879 1123h17v17h-17zM1885 1125h17v17h-17zM1891 1124h17v17h-17zM1898 1126h17v17h-17zM1904 1124h17v17h-17zM1910 1127h17v17h-17zM1918 1124h17v17h-17zM1925 1125h17v17h-17zM1931 1124h17v17h-17zM1938 1127h17v17h-17zM1944 1126h17v17h-17zM1950 1128h17v17h-17zM1957 1126h17v17h-17zM1963 1128h17v17h-17zM1972 1128h17v17h-17z" fill="#f0f"/>
<path d="M291.4 638.9L298.6 641.4L305.7 628.5L312.9 612.8L320 644.5L327.2 642.5L334.3 643.5L341.5 636.6L348.7 634.4L355.8 628.5L363 628.5L370.1 638.4L377.3 614.5L384.4 623.6L391.6 634.4L398.8 654.5L405.9 651.8L413.1 641.4L420.2 660L427.4 667.5L434.5 675.5L441.7 664.5L448.9 671.5L456 685L463.2 705.4L470.3 718.5L477.5 713.5L484.6 710.5L491.8 723.5L499 742L506.1 747.1L513.3 755.2L520.4 789.1L527.6 835L534.7 813.9L541.9 807.6L549.1 798.5L556.2 807.6L563.4 807.2L570.5 816.3L577.7 818L584.8 834L592 857.8L599.2 888L606.3 876.3L613.5 891.6L620.6 954.8L627.8 952.7L634.9 964L642.1 999.4L649.2 1030.7L656.4 1041.3L663.6 1049.1L670.7 1052.5L677.9 1056L685 1060.3L693.7 1119.1L700.8 1131.5L708 1164.4L715.2 1173.2L722.3 1195.2L729.5 1215.3L736.6 1209.8L743.6 1133.6L750.6 1084.7L757.3 1073.7L764.7 1046.6L771.5 1040.3L778.7 1051.9L785.5 1054.5L792.5 1059.3L799.4 1032.7L806.6 1037.1L813.8 1044.5L821.4 1067.1L828.6 1034.6L835.6 1068.2L842.6 1061.4L849.8 1063.5L856.5 1042.4L863.7 1054L870.7 1061L877.7 1041.3L884.9 1048.7L892.1 1054L898.6 1073.1L905.6 1042.4L912.8 1058.3L920 1056.6L927.2 1055.7L934.4 1053L941.6 1051.5L948.5 1049.8L955.5 1043.5L962.7 1058.9L969.9 1065.2L976.7 1076.2L983.9 1057.2L991.1 1062.5L997.8 1044.5L1005 1050.9L1012.2 1053L1019.4 1053.6L1026.6 1055.1L1032.9 1075L1040.1 1058.7L1047.3 1060.4L1054.5 1064.6L1061.5 1069.9L1068.5 1088.9L1075.7 1056.6L1083.1 1087.2L1090 1069.9L1097 1053.4L1104.2 1033.5L1111.2 1079.4L1118.2 1030.8L1125.4 1032.9L1132.3 1051.3L1139.5 1051.3L1146.5 1009.6L1153.7 1081.5L1160.7 1112.8L1167.7 1064.6L1174.6 1077.3L1181.6 1038.8L1188.8 1077.7L1196 1078.4L1202.8 1045.6L1210 1031.8L1216.9 1089.6L1223.9 1098.4L1231.1 1085.8L1238.1 1078.4L1245.4 1077.3L1252.6 1072L1259.6 1061.4L1266.6 1053.6L1273.4 1074.1L1280.3 1058.3L1287.5 1077.9L1294.5 1052.5L1301.9 1051.9L1308.9 1043.9L1316.1 1035L1323.1 1040.3L1329.8 1029.7L1337 1032.5L1344.2 1097.8L1351.2 1049.8L1358.4 1115.4L1365.4 1126.2L1372.1 1065.9L1379.3 1114.7L1386.5 1114.7L1393.9 1044.9L1400.9 1130.4L1407.9 1016.8L1415.1 1074.3L1422 1046.6L1429.2 1062.5L1436.2 1047.7L1443.2 1047.7L1450.4 1062.5L1457.4 1059.3L1464.3 1050.6L1471.1 1123L1478.5 1060.4L1485.5 1044.5L1492.7 1048.5L1499.7 1104.8L1506.6 1076.2L1513.4 1039.6L1520.8 1052.3L1527.8 1061.9L1535 1074.3L1542 1136.1L1549 1075.8L1556.1 1062.9L1563.1 1055.9L1570.1 1053.4L1577.3 1045.6L1584.3 1045.1L1591.5 1036.9L1598.4 1044.5L1605.4 1065.9L1612.6 1042.8L1619.6 1041.8L1626.8 1042.4L1633.8 1042.4L1640.7 1037.7L1647.9 1043.5L1655.1 1039.2L1662.1 1039L1669.3 1045.6L1676.3 1068L1683.5 1062.5L1690.4 1063.5L1697.4 1062.5L1704.6 1061.4L1711.6 1052.8L1718.8 1057.2L1726 1052.5L1729.5 1054.7L1737.9 1053.6L1748.4 1052.6L1754.7 1054L1761 1055.3L1768.4 1052.6L1775.7 1049.9L1782.7 1055.7L1789.4 1076.4L1796.8 1056.2L1803.1 1056.2L1809.4 1056.2L1816.8 1049L1824.1 1046.9L1832.6 1045.6L1839.9 1046.9L1847.3 1048.4L1853.6 1058.9L1861 1055.7L1867.3 1064.2L1874.6 1046.5L1881.4 1076.4L1888.7 1076.4L1897.8 1068.8L1903.6 1065.7L1909.4 1062.7L1918.8 1066.7L1925.1 1066L1931.5 1065.2L1937.8 1064.9L1944.1 1064.6L1952.5 1063.7L1959.9 1050.7L1967.2 1052.2L1973.5 1043.8L1980.5 1044.6" stroke="#00f" stroke-width="4.5" fill="none" stroke-linejoin="round"/>
<path d="M283 630h17v17h-17zM290 633h17v17h-17zM297 620h17v17h-17zM304 604h17v17h-17zM312 636h17v17h-17zM319 634h17v17h-17zM326 635h17v17h-17zM333 628h17v17h-17zM340 626h17v17h-17zM347 620h17v17h-17zM354 620h17v17h-17zM362 630h17v17h-17zM369 606h17v17h-17zM376 615h17v17h-17zM383 626h17v17h-17zM390 646h17v17h-17zM397 643h17v17h-17zM405 633h17v17h-17zM412 652h17v17h-17zM419 659h17v17h-17zM426 667h17v17h-17zM433 656h17v17h-17zM440 663h17v17h-17zM448 676h17v17h-17zM455 697h17v17h-17zM462 710h17v17h-17zM469 705h17v17h-17zM476 702h17v17h-17zM483 715h17v17h-17zM490 734h17v17h-17zM498 739h17v17h-17zM505 747h17v17h-17zM512 781h17v17h-17zM519 826h17v17h-17zM526 805h17v17h-17zM533 799h17v17h-17zM541 790h17v17h-17zM548 799h17v17h-17zM555 799h17v17h-17zM562 808h17v17h-17zM569 810h17v17h-17zM576 826h17v17h-17zM583 849h17v17h-17zM591 880h17v17h-17zM598 868h17v17h-17zM605 883h17v17h-17zM612 946h17v17h-17zM619 944h17v17h-17zM626 956h17v17h-17zM634 991h17v17h-17zM641 1022h17v17h-17zM648 1033h17v17h-17zM655 1041h17v17h-17zM662 1044h17v17h-17zM669 1048h17v17h-17zM677 1052h17v17h-17zM685 1111h17v17h-17zM692 1123h17v17h-17zM700 1156h17v17h-17zM707 1165h17v17h-17zM714 1187h17v17h-17zM721 1207h17v17h-17zM728 1201h17v17h-17zM735 1125h17v17h-17zM742 1076h17v17h-17zM749 1065h17v17h-17zM756 1038h17v17h-17zM763 1032h17v17h-17zM770 1043h17v17h-17zM777 1046h17v17h-17zM784 1051h17v17h-17zM791 1024h17v17h-17zM798 1029h17v17h-17zM805 1036h17v17h-17zM813 1059h17v17h-17zM820 1026h17v17h-17zM827 1060h17v17h-17zM834 1053h17v17h-17zM841 1055h17v17h-17zM848 1034h17v17h-17zM855 1046h17v17h-17zM862 1053h17v17h-17zM869 1033h17v17h-17zM876 1040h17v17h-17zM884 1046h17v17h-17zM890 1065h17v17h-17zM897 1034h17v17h-17zM904 1050h17v17h-17zM911 1048h17v17h-17zM919 1047h17v17h-17zM926 1044h17v17h-17zM933 1043h17v17h-17zM940 1041h17v17h-17zM947 1035h17v17h-17zM954 1050h17v17h-17zM961 1057h17v17h-17zM968 1068h17v17h-17zM975 1049h17v17h-17zM983 1054h17v17h-17zM989 1036h17v17h-17zM997 1042h17v17h-17zM1004 1044h17v17h-17zM1011 1045h17v17h-17zM1018 1047h17v17h-17zM1024 1066h17v17h-17zM1032 1050h17v17h-17zM1039 1052h17v17h-17zM1046 1056h17v17h-17zM1053 1061h17v17h-17zM1060 1080h17v17h-17zM1067 1048h17v17h-17zM1075 1079h17v17h-17zM1082 1061h17v17h-17zM1089 1045h17v17h-17zM1096 1025h17v17h-17zM1103 1071h17v17h-17zM1110 1022h17v17h-17zM1117 1024h17v17h-17zM1124 1043h17v17h-17zM1131 1043h17v17h-17zM1138 1001h17v17h-17zM1145 1073h17v17h-17zM1152 1104h17v17h-17zM1159 1056h17v17h-17zM1166 1069h17v17h-17zM1173 1030h17v17h-17zM1180 1069h17v17h-17zM1188 1070h17v17h-17zM1194 1037h17v17h-17zM1201 1023h17v17h-17zM1208 1081h17v17h-17zM1215 1090h17v17h-17zM1223 1077h17v17h-17zM1230 1070h17v17h-17zM1237 1069h17v17h-17zM1244 1064h17v17h-17zM1251 1053h17v17h-17zM1258 1045h17v17h-17zM1265 1066h17v17h-17zM1272 1050h17v17h-17zM1279 1069h17v17h-17zM1286 1044h17v17h-17zM1293 1043h17v17h-17zM1300 1035h17v17h-17zM1308 1026h17v17h-17zM1315 1032h17v17h-17zM1321 1021h17v17h-17zM1329 1024h17v17h-17zM1336 1089h17v17h-17zM1343 1041h17v17h-17zM1350 1107h17v17h-17zM1357 1118h17v17h-17zM1364 1057h17v17h-17zM1371 1106h17v17h-17zM1378 1106h17v17h-17zM1385 1036h17v17h-17zM1392 1122h17v17h-17zM1399 1008h17v17h-17zM1407 1066h17v17h-17zM1414 1038h17v17h-17zM1421 1054h17v17h-17zM1428 1039h17v17h-17zM1435 1039h17v17h-17zM1442 1054h17v17h-17zM1449 1051h17v17h-17zM1456 1042h17v17h-17zM1463 1114h17v17h-17zM1470 1052h17v17h-17zM1477 1036h17v17h-17zM1484 1040h17v17h-17zM1491 1096h17v17h-17zM1498 1068h17v17h-17zM1505 1031h17v17h-17zM1512 1044h17v17h-17zM1519 1053h17v17h-17zM1526 1066h17v17h-17zM1533 1128h17v17h-17zM1540 1067h17v17h-17zM1548 1054h17v17h-17zM1555 1047h17v17h-17zM1562 1045h17v17h-17zM1569 1037h17v17h-17zM1576 1037h17v17h-17zM1583 1028h17v17h-17zM1590 1036h17v17h-17zM1597 1057h17v17h-17zM1604 1034h17v17h-17zM1611 1033h17v17h-17zM1618 1034h17v17h-17zM1625 1034h17v17h-17zM1632 1029h17v17h-17zM1639 1035h17v17h-17zM1647 1031h17v17h-17zM1654 1031h17v17h-17zM1661 1037h17v17h-17zM1668 1059h17v17h-17zM1675 1054h17v17h-17zM1682 1055h17v17h-17zM1689 1054h17v17h-17zM1696 1053h17v17h-17zM1703 1044h17v17h-17zM1710 1049h17v17h-17zM1717 1044h17v17h-17zM1721 1046h17v17h-17zM1729 1045h17v17h-17zM1740 1044h17v17h-17zM1746 1045h17v17h-17zM1753 1047h17v17h-17zM1760 1044h17v17h-17zM1767 1041h17v17h-17zM1774 1047h17v17h-17zM1781 1068h17v17h-17zM1788 1048h17v17h-17zM1795 1048h17v17h-17zM1801 1048h17v17h-17zM1808 1041h17v17h-17zM1816 1038h17v17h-17zM1824 1037h17v17h-17zM1831 1038h17v17h-17zM1839 1040h17v17h-17zM1845 1050h17v17h-17zM1852 1047h17v17h-17zM1859 1056h17v17h-17zM1866 1038h17v17h-17zM1873 1068h17v17h-17zM1880 1068h17v17h-17zM1889 1060h17v17h-17zM1895 1057h17v17h-17zM1901 1054h17v17h-17zM1910 1058h17v17h-17zM1917 1057h17v17h-17zM1923 1057h17v17h-17zM1929 1056h17v17h-17zM1936 1056h17v17h-17zM1944 1055h17v17h-17zM1951 1042h17v17h-17zM1959 1044h17v17h-17zM1965 1035h17v17h-17zM1972 1036h17v17h-17z" fill="#00f"/>
</g>
<g fill="#000" shape-rendering="geometricPrecision"><rect x="255" y="1232" width="30" height="6" rx="2"/><rect x="255" y="964" width="30" height="6" rx="2"/><rect x="255" y="696" width="30" height="6" rx="2"/><rect x="255" y="428" width="30" height="6" rx="2"/><rect x="255" y="160" width="30" height="6" rx="2"/><rect x="255" y="1098" width="17" height="6" rx="2"/><rect x="255" y="830" width="17" height="6" rx="2"/><rect x="255" y="562" width="17" height="6" rx="2"/><rect x="255" y="294" width="17" height="6" rx="2"/><rect x="2091" y="1181" width="30" height="6" rx="2"/><rect x="2091" y="996" width="30" height="6" rx="2"/><rect x="2091" y="812" width="30" height="6" rx="2"/><rect x="2091" y="627" width="30" height="6" rx="2"/><rect x="2091" y="442" width="30" height="6" rx="2"/><rect x="2091" y="257" width="30" height="6" rx="2"/><rect x="2091" y="72" width="30" height="6" rx="2"/><rect x="2104" y="1274" width="17" height="6" rx="2"/><rect x="2104" y="1089" width="17" height="6" rx="2"/><rect x="2104" y="904" width="17" height="6" rx="2"/><rect x="2104" y="719" width="17" height="6" rx="2"/><rect x="2104" y="534" width="17" height="6" rx="2"/><rect x="2104" y="349" width="17" height="6" rx="2"/><rect x="2104" y="165" width="17" height="6" rx="2"/><rect x="281" y="1338" width="6" height="31" rx="2"/><rect x="564" y="1338" width="6" height="31" rx="2"/><rect x="846" y="1338" width="6" height="31" rx="2"/><rect x="1128" y="1338" width="6" height="31" rx="2"/><rect x="1411" y="1338" width="6" height="31" rx="2"/><rect x="1694" y="1338" width="6" height="31" rx="2"/><rect x="1976" y="1338" width="6" height="31" rx="2"/><rect x="422" y="1352" width="6" height="17" rx="2"/><rect x="705" y="1352" width="6" height="17" rx="2"/><rect x="987" y="1352" width="6" height="17" rx="2"/><rect x="1270" y="1352" width="6" height="17" rx="2"/><rect x="1552" y="1352" width="6" height="17" rx="2"/><rect x="1835" y="1352" width="6" height="17" rx="2"/></g>
<rect x="255" y="29" width="1866" height="1340" fill="none" stroke="#000" stroke-width="6"/>
<g font-size="66.67">
<text transform="translate(225.8 1255.8) scale(1 1.04)" text-anchor="end">40</text>
<text transform="translate(225.8 987.8) scale(1 1.04)" text-anchor="end">60</text>
<text transform="translate(225.8 719.8) scale(1 1.04)" text-anchor="end">80</text>
<text transform="translate(225.8 451.8) scale(1 1.04)" text-anchor="end">100</text>
<text transform="translate(225.8 183.8) scale(1 1.04)" text-anchor="end">120</text>
<text transform="translate(2148.8 1389.8) scale(1 1.04)">0</text>
<text transform="translate(2148.8 1205) scale(1 1.04)">40</text>
<text transform="translate(2148.8 1020.1) scale(1 1.04)">80</text>
<text transform="translate(2148.8 835.3) scale(1 1.04)">120</text>
<text transform="translate(2148.8 650.5) scale(1 1.04)">160</text>
<text transform="translate(2148.8 465.7) scale(1 1.04)">200</text>
<text transform="translate(2148.8 280.8) scale(1 1.04)">240</text>
<text transform="translate(2148.8 96) scale(1 1.04)">280</text>
<text transform="translate(284.8 1452) scale(1 1.04)" text-anchor="middle">0</text>
<text transform="translate(567.3 1452) scale(1 1.04)" text-anchor="middle">20</text>
<text transform="translate(849.8 1452) scale(1 1.04)" text-anchor="middle">40</text>
<text transform="translate(1132.3 1452) scale(1 1.04)" text-anchor="middle">60</text>
<text transform="translate(1414.8 1452) scale(1 1.04)" text-anchor="middle">80</text>
<text transform="translate(1697.3 1452) scale(1 1.04)" text-anchor="middle">100</text>
<text transform="translate(1979.8 1452) scale(1 1.04)" text-anchor="middle">120</text>
<text x="1155.3" y="1535.3" text-anchor="middle">Time (min)</text>
<text font-size="67.3" transform="translate(96.4 999.4) rotate(-90)">Temperature <tspan x="404.6" font-family="Liberation Serif,serif" font-size="80">(</tspan><tspan x="431" dy="-31.4">o</tspan><tspan x="468.4" dy="31.4">C</tspan><tspan x="517.3" font-family="Liberation Serif,serif" font-size="80">)</tspan></text>
</g>
<text font-size="80" transform="translate(2283.5 390) rotate(90)" dx="0 -0.4 2.2 -0.4 -1.0 1.4 1.0 -4.0 4.3 0 -2.3 1.1 0.3 0.8 -5.0 -3.6 -0.1">Viscosity <tspan font-family="Liberation Serif,serif">(</tspan>mPa·s<tspan font-family="Liberation Serif,serif">)</tspan></text>
<line x1="1154.5" x2="1304" y1="290.4" y2="290.4" stroke="#f00" stroke-width="2.7" stroke-linecap="butt"/>
<rect x="1220" y="281" width="18" height="18" fill="#f00"/>
<text font-size="66.67" transform="translate(1320.5 313.9) scale(1 1.0)">Temperature</text>
<line x1="1154.5" x2="1304" y1="387.4" y2="387.4" stroke="#000" stroke-width="5" stroke-linecap="round"/>
<rect x="1220" y="378" width="18" height="18" fill="#000"/>
<text font-size="66.67" transform="translate(1321 410.9) scale(1 1.04)">0.3% wt +5000 mg/L Ca<tspan font-size="40" dx="-4" dy="-35.3">2+</tspan></text>
<line x1="1154.5" x2="1304" y1="484.4" y2="484.4" stroke="#0f0" stroke-width="5" stroke-linecap="round"/>
<rect x="1220" y="475" width="18" height="18" fill="#0f0"/>
<text font-size="66.67" transform="translate(1321 507.9) scale(1 1.04)">0.3% wt +3000 mg/L Mg<tspan font-size="40" dx="-4" dy="-35.3">2+</tspan></text>
<line x1="1154.5" x2="1304" y1="581" y2="581" stroke="#f0f" stroke-width="5" stroke-linecap="round"/>
<rect x="1220" y="572" width="18" height="18" fill="#f0f"/>
<text font-size="66.67" transform="translate(1321 604.5) scale(1 1.04)">0.6% wt +5000 mg/L Ca<tspan font-size="40" dx="-4" dy="-35.3">2+</tspan></text>
<line x1="1154.5" x2="1304" y1="677.8" y2="677.8" stroke="#00f" stroke-width="5" stroke-linecap="round"/>
<rect x="1220" y="669" width="18" height="18" fill="#00f"/>
<text font-size="66.67" transform="translate(1321 701.3) scale(1 1.04)">0.6% wt +3000 mg/L Mg<tspan font-size="40" dx="-4" dy="-35.3">2+</tspan></text>
</svg></body></html>
